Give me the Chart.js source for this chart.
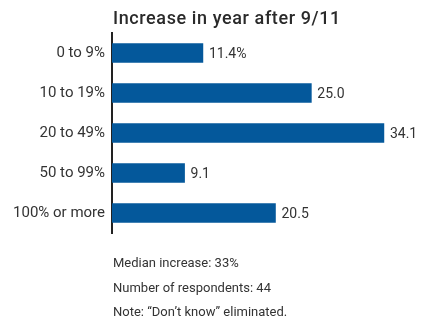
<!DOCTYPE html>
<html>
<head>
<meta charset="utf-8">
<script src="https://cdn.jsdelivr.net/npm/chart.js@4/dist/chart.umd.min.js"></script>
<style>
  html, body { margin: 0; padding: 0; background: #fff; }
  #wrap { width: 422px; height: 322px; }
</style>
</head>
<body>
<div id="wrap"><canvas id="myChart" width="422" height="322"></canvas></div>
<script>
var categories = ['0 to 9%', '10 to 19%', '20 to 49%', '50 to 99%', '100% or more'];
var values = [11.4, 25.0, 34.1, 9.1, 20.5];
var valueLabels = ['11.4%', '25.0', '34.1', '9.1', '20.5'];
var titleText = 'Increase in year after 9/11';
var notes = ['Median increase: 33%', 'Number of respondents: 44', 'Note: \u201cDon\u2019t know\u201d eliminated.'];

var FONT = 'Roboto, "Liberation Sans", sans-serif';

// title, value labels and the notes under the chart
var textPlugin = {
  id: 'textPlugin',
  afterDraw: function (chart) {
    var ctx = chart.ctx;
    var area = chart.chartArea;
    ctx.save();
    ctx.fillStyle = '#2a2a2a';
    ctx.font = '500 18px ' + FONT;
    ctx.letterSpacing = '0.6px';
    ctx.textAlign = 'left';
    ctx.textBaseline = 'middle';
    ctx.fillText(titleText, area.left + 1, 19);
    ctx.letterSpacing = '0px';

    var meta = chart.getDatasetMeta(0);
    ctx.font = '14px ' + FONT;
    ctx.fillStyle = '#333';
    meta.data.forEach(function (bar, i) {
      ctx.fillText(valueLabels[i], bar.x + 6, bar.y + 1);
    });

    ctx.font = '13px ' + FONT;
    ctx.fillStyle = '#333';
    for (var i = 0; i < notes.length; i++) {
      ctx.fillText(notes[i], area.left + 1, 264 + i * 24.5);
    }
    ctx.restore();
  }
};

var ctx = document.getElementById('myChart').getContext('2d');
var myChart = new Chart(ctx, {
  type: 'bar',
  data: {
    labels: categories,
    datasets: [{
      data: values,
      backgroundColor: '#04589b',
      borderWidth: 0,
      barThickness: 19
    }]
  },
  options: {
    indexAxis: 'y',
    responsive: false,
    animation: false,
    layout: { padding: { top: 33, bottom: 89, right: 7, left: 0 } },
    plugins: {
      legend: { display: false },
      tooltip: { enabled: false },
      title: { display: false }
    },
    scales: {
      x: {
        display: false,
        min: 0,
        max: 38
      },
      y: {
        grid: { display: false, drawTicks: false },
        border: { display: true, color: '#222', width: 2 },
        ticks: {
          color: '#333',
          padding: 7,
          font: { family: FONT, size: 15 }
        },
        afterFit: function (scale) { scale.width = 112; }
      }
    }
  },
  plugins: [textPlugin]
});
</script>
</body>
</html>
